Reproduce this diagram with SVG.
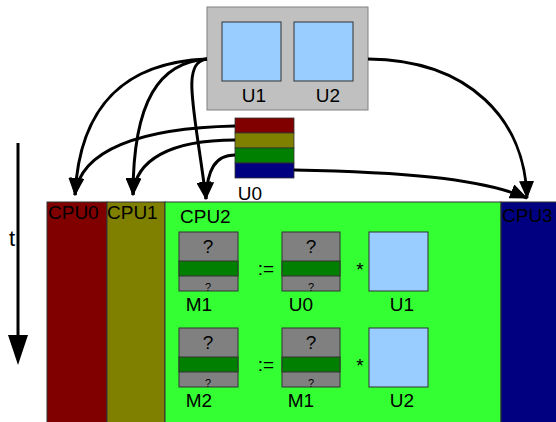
<svg xmlns="http://www.w3.org/2000/svg" width="556" height="422" viewBox="0 0 556 422">
<defs>
<marker id="ah" viewBox="0 0 18 15" markerWidth="18" markerHeight="15" refX="17" refY="7.5" orient="auto" markerUnits="userSpaceOnUse">
<path d="M0,0 L18,7.5 L0,15 z" fill="#000"/>
</marker>
</defs>
<style>
text{font-family:"Liberation Sans",Arial,sans-serif;font-size:19px;fill:#000}
.mid{text-anchor:middle}
.blue{fill:#99ccff;stroke:#333;stroke-width:1}
.gray{fill:#808080;stroke:#333;stroke-width:1}
.band{fill:#007f00;stroke:#333;stroke-width:1}
.small{font-size:11px}
.conn{fill:none;stroke:#000;stroke-width:3;marker-end:url(#ah)}
</style>
<g id="cpu0"><rect x="47" y="202" width="60" height="222" fill="#800000" stroke="#333" stroke-width="1"/><text x="48" y="219">CPU0</text></g>
<g id="cpu1"><rect x="107" y="202" width="58" height="222" fill="#808000" stroke="#333" stroke-width="1"/><text x="107" y="219">CPU1</text></g>
<g id="cpu2"><rect x="165" y="202" width="336" height="222" fill="#33ff33" stroke="#333" stroke-width="1"/><text x="180" y="223">CPU2</text></g>
<g id="cpu3"><rect x="501" y="202" width="57" height="222" fill="#000080" stroke="#333" stroke-width="1"/><text x="502" y="222">CPU3</text></g>
<g id="ubox">
<rect x="207" y="7" width="161" height="103" fill="#c0c0c0" stroke="#808080" stroke-width="1"/>
<rect class="blue" x="222" y="22" width="59" height="59"/>
<rect class="blue" x="294" y="22" width="59" height="59"/>
<text class="mid" x="254" y="102">U1</text>
<text class="mid" x="328" y="102">U2</text>
</g>
<g id="u0">
<rect x="235" y="118" width="59" height="15" fill="#800000" stroke="#333" stroke-width="0.8"/>
<rect x="235" y="133" width="59" height="15" fill="#808000" stroke="#333" stroke-width="0.8"/>
<rect x="235" y="148" width="59" height="15" fill="#008000" stroke="#333" stroke-width="0.8"/>
<rect x="235" y="163" width="59" height="15" fill="#000080" stroke="#333" stroke-width="0.8"/>
<text class="mid" x="250" y="200">U0</text>
</g>
<g id="row1">
<g id="m1a"><rect class="gray" x="179" y="232" width="59" height="59"/><rect class="band" x="179" y="261" width="59" height="15"/><text class="mid" x="208" y="253">?</text><text class="mid small" x="208" y="291">?</text><text class="mid" x="199" y="311">M1</text></g>
<text class="mid" x="266" y="275">:=</text>
<g id="u0a"><rect class="gray" x="282" y="232" width="58" height="59"/><rect class="band" x="282" y="261" width="58" height="15"/><text class="mid" x="311" y="253">?</text><text class="mid small" x="311" y="291">?</text><text class="mid" x="301" y="311">U0</text></g>
<text class="mid" x="360" y="276">*</text>
<g id="u1a"><rect class="blue" x="369" y="232" width="59" height="59"/><text class="mid" x="402" y="311">U1</text></g>
</g>
<g id="row2">
<g id="m2b"><rect class="gray" x="179" y="328" width="59" height="59"/><rect class="band" x="179" y="357" width="59" height="15"/><text class="mid" x="208" y="349">?</text><text class="mid small" x="208" y="387">?</text><text class="mid" x="199" y="407">M2</text></g>
<text class="mid" x="266" y="371">:=</text>
<g id="m1b"><rect class="gray" x="282" y="328" width="58" height="59"/><rect class="band" x="282" y="357" width="58" height="15"/><text class="mid" x="311" y="349">?</text><text class="mid small" x="311" y="387">?</text><text class="mid" x="301" y="407">M1</text></g>
<text class="mid" x="360" y="372">*</text>
<g id="u2b"><rect class="blue" x="369" y="328" width="59" height="59"/><text class="mid" x="402" y="407">U2</text></g>
</g>
<g id="time">
<line x1="18" y1="143" x2="18" y2="338" stroke="#000" stroke-width="3"/>
<polygon points="8,335 28,335 18,365" fill="#000"/>
<text x="9" y="246" style="font-size:22px">t</text>
</g>
<g id="connectors">
<path class="conn" d="M207,59 C130,62 80,100 75,195"/>
<path class="conn" d="M207,59 C160,62 133,100 133,195"/>
<path class="conn" d="M207,59 C180,62 195,110 206,199"/>
<path class="conn" d="M235,126 C140,128 80,150 75,195"/>
<path class="conn" d="M235,140 C170,140 135,160 133,195"/>
<path class="conn" d="M235,155 C215,155 207,170 206,199"/>
<path class="conn" d="M368,59 C470,60 525,120 527,198"/>
<path class="conn" d="M294,170 C400,172 480,178 527,198"/>
</g>
</svg>
